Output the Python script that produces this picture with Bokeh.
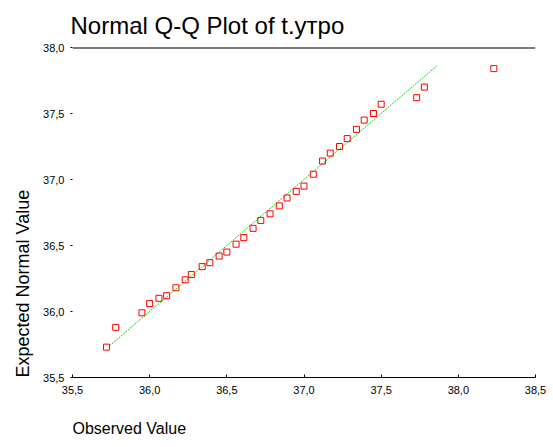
from bokeh.plotting import figure
from bokeh.models import Range1d, FixedTicker, Span, Title
from bokeh.embed import file_html
from bokeh.resources import INLINE

# Observed values (x) and expected normal values (y)
observed = [35.72, 35.78, 35.95, 36.00, 36.06, 36.11, 36.17, 36.23, 36.27, 36.34,
            36.39, 36.45, 36.50, 36.56, 36.61, 36.67, 36.72, 36.78, 36.84, 36.89,
            36.95, 37.00, 37.06, 37.12, 37.17, 37.23, 37.28, 37.34, 37.39, 37.45,
            37.50, 37.73, 37.78, 38.23]
expected = [35.73, 35.88, 35.99, 36.06, 36.10, 36.12, 36.18, 36.24, 36.28, 36.34,
            36.37, 36.42, 36.45, 36.51, 36.56, 36.63, 36.69, 36.74, 36.80, 36.86,
            36.91, 36.95, 37.04, 37.14, 37.20, 37.25, 37.31, 37.38, 37.45, 37.50,
            37.57, 37.62, 37.70, 37.84]
# reference line y = x over range of expected values
ref_line = [35.74, 37.86]

x_ticks = [35.5, 36.0, 36.5, 37.0, 37.5, 38.0, 38.5]
x_tick_labels = ["35,5", "36,0", "36,5", "37,0", "37,5", "38,0", "38,5"]
y_ticks = [35.5, 36.0, 36.5, 37.0, 37.5, 38.0]
y_tick_labels = ["35,5", "36,0", "36,5", "37,0", "37,5", "38,0"]

FONT = "Liberation Sans"

p = figure(width=553, height=447, frame_width=463, frame_height=330,
           x_range=Range1d(35.5, 38.5), y_range=Range1d(35.5, 38.0),
           output_backend="svg", toolbar_location=None,
           min_border_left=72, min_border_right=18, min_border_top=47, min_border_bottom=70)
p.outline_line_color = None
p.xgrid.visible = False
p.ygrid.visible = False
p.background_fill_color = "white"
p.border_fill_color = "white"

p.title.text = "Normal Q-Q Plot of t.утро"
p.title.text_font = FONT
p.title.text_font_size = "24px"
p.title.text_font_style = "normal"
p.title.text_color = "black"
p.title.align = "left"
p.title.offset = -2
p.title.standoff = 17

p.add_layout(Title(text="Observed Value", align="left", text_font=FONT, text_color="black",
                   text_font_size="16px", text_font_style="normal", standoff=42), "below")
p.add_layout(Title(text="Expected Normal Value", align="left", text_font=FONT, text_color="black",
                   text_font_size="18px", text_font_style="normal", standoff=16), "left")

xa = p.xaxis[0]
xa.ticker = FixedTicker(ticks=x_ticks)
xa.major_label_overrides = dict(zip(x_ticks, x_tick_labels))
xa.axis_line_color = "black"
xa.axis_line_width = 1
xa.major_tick_in = 3
xa.major_tick_out = 0
xa.major_tick_line_color = "black"
xa.minor_tick_line_color = None
xa.major_label_standoff = 8
xa.major_label_text_font = FONT
xa.major_label_text_font_size = "11px"
xa.major_label_text_color = "black"

ya = p.yaxis[0]
ya.ticker = FixedTicker(ticks=y_ticks)
ya.major_label_overrides = dict(zip(y_ticks, y_tick_labels))
ya.axis_line_color = None
ya.major_tick_in = 0
ya.major_tick_out = 2
ya.major_tick_line_color = "black"
ya.minor_tick_line_color = None
ya.major_label_standoff = 6
ya.major_label_text_font = FONT
ya.major_label_text_font_size = "11px"
ya.major_label_text_color = "black"

p.add_layout(Span(location=38.0, dimension="width", line_color="black", line_width=2))

p.line(ref_line, ref_line, line_color="#00e000", line_width=1, line_dash="2 1")
p.scatter(observed, expected, marker="square", size=6, fill_color=None,
          line_color="#ff0000", line_width=1)

open("out.html", "w").write(file_html(p, INLINE))
